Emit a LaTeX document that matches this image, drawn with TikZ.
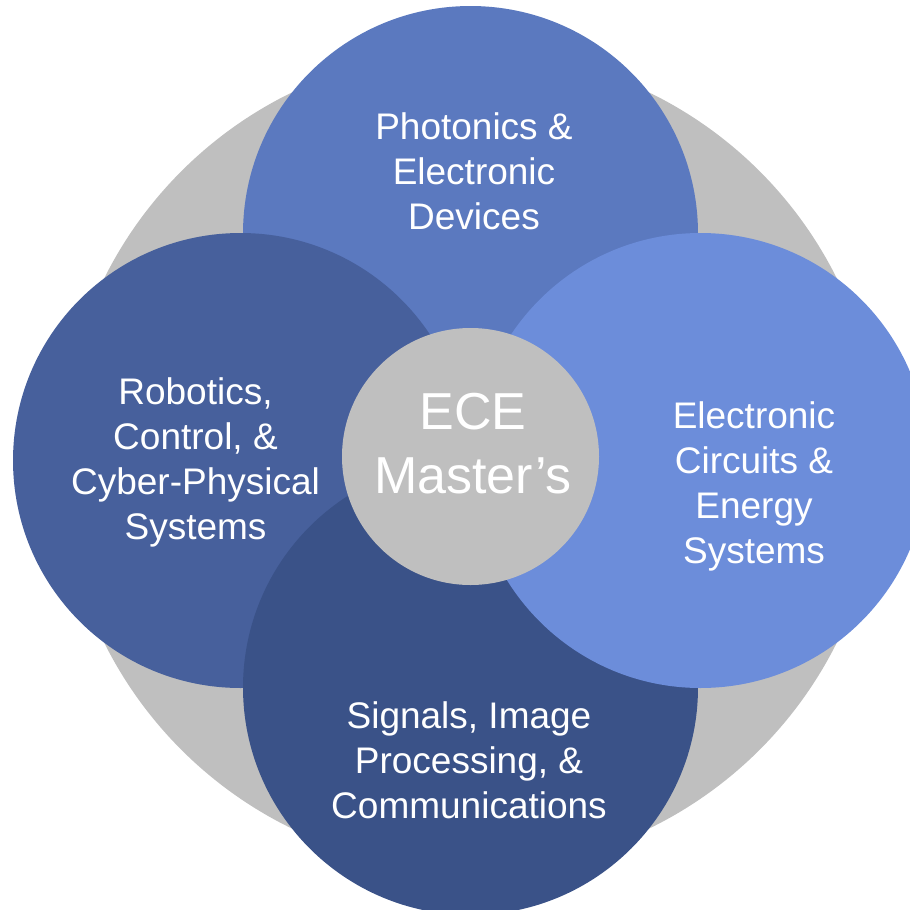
\documentclass[tikz,border=0pt]{standalone}
\usepackage{fontspec}
\setmainfont{Liberation Sans}
\usetikzlibrary{positioning}
\definecolor{ecegray}{HTML}{BFBFBF}
\definecolor{ecephot}{HTML}{5B79BF}
\definecolor{ecerobo}{HTML}{47609C}
\definecolor{ecesig}{HTML}{3A5288}
\definecolor{eceenergy}{HTML}{6C8DDA}

\tikzset{
    areadisk/.style={circle, inner sep=0pt, minimum size=455pt},
    topic/.style={text=white, align=center, font=\fontsize{37}{45}\selectfont}
}

\begin{document}
\begin{tikzpicture}[x=1pt, y=-1pt]
    \useasboundingbox (0,0) rectangle (910,910);
    \clip (0,0) rectangle (910,910);

    % Backdrop
    \node[circle, inner sep=0pt, minimum size=818pt, fill=ecegray] (ring) at (470.5,460.5) {};

    % Areas
    \node[areadisk, fill=ecephot] (phot) at (470.5,233.5) {};
    \node[areadisk, fill=ecerobo] (robo) at (240.5,460.5) {};
    \node[areadisk, fill=ecesig] (sig) at (470.5,687.5) {};
    \node[areadisk, fill=eceenergy] (energy) at (700.5,460.5) {};

    % Hub
    \node[circle, inner sep=0pt, minimum size=257pt, fill=ecegray] (hub) at (470.5,456.5) {};

    % Labels
    \node[topic] (phottext) at (474,171) {Photonics \&\\Electronic\\Devices};
    \node[topic] (robotext) at (195.5,462) {Robotics,\\Control, \&\\Cyber-Physical\\Systems};
    \node[topic] (sigtext) at (469,760) {Signals, Image\\Processing, \&\\Communications};
    \node[topic] (energytext) at (754,486) {Electronic\\Circuits \&\\Energy\\Systems};
    \node[text=white, align=center, font=\fontsize{52}{64}\selectfont] (hubtext) at (473,444) {ECE\\Master’s};
\end{tikzpicture}
\end{document}
